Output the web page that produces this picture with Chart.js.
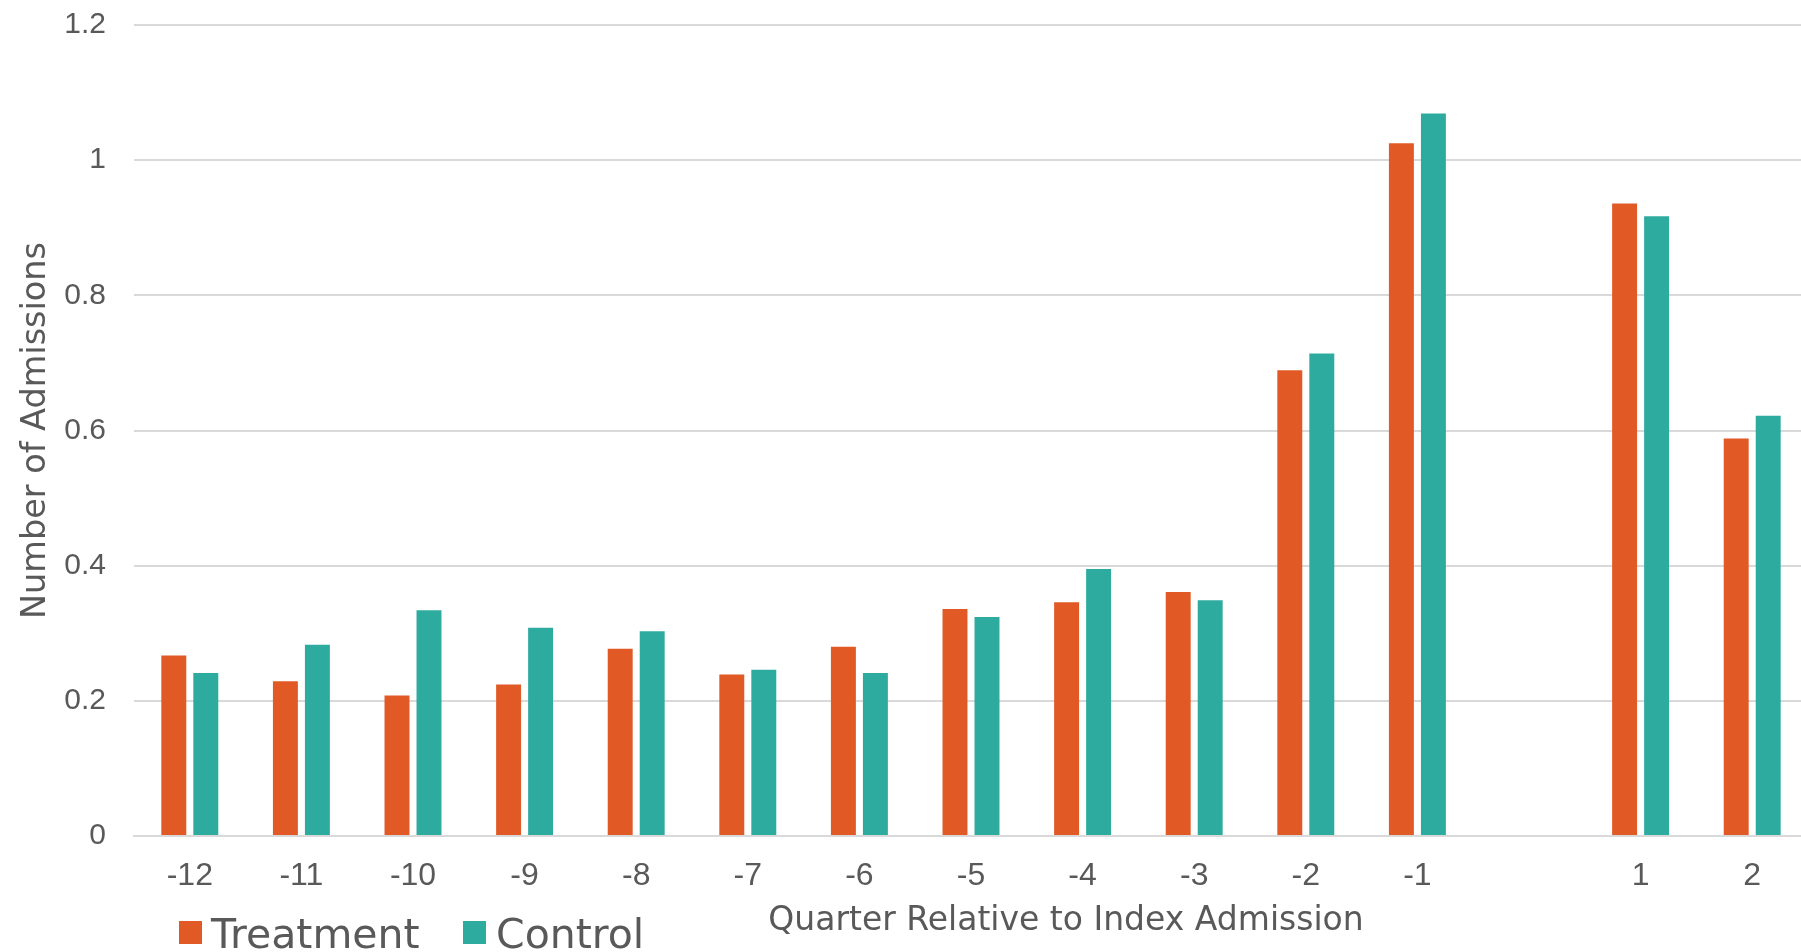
<!DOCTYPE html>
<html>
<head>
<meta charset="utf-8">
<title>Admissions by Quarter</title>
<script src="https://cdn.jsdelivr.net/npm/chart.js@4.4.0/dist/chart.umd.min.js"></script>
<style>
  html, body { margin: 0; padding: 0; background: #ffffff; overflow: hidden; }
  #wrap { position: relative; width: 1808px; height: 952px; }
</style>
</head>
<body>
<div id="wrap"><canvas id="chart"></canvas></div>
<script>
// Quarters relative to the index admission (quarter 0 is left empty)
const quarters = ['-12', '-11', '-10', '-9', '-8', '-7', '-6', '-5', '-4', '-3', '-2', '-1', '', '1', '2'];

// Mean number of admissions per quarter
const treatment = [0.267, 0.229, 0.208, 0.224, 0.277, 0.239, 0.280, 0.336, 0.346, 0.361, 0.689, 1.025, null, 0.936, 0.588];
const control   = [0.241, 0.283, 0.334, 0.308, 0.303, 0.246, 0.241, 0.324, 0.395, 0.349, 0.714, 1.069, null, 0.917, 0.622];

// Value axis ticks
const yTickValues = [0, 0.2, 0.4, 0.6, 0.8, 1, 1.2];

const seriesNames = ['Treatment', 'Control'];
const seriesColors = ['#E15A26', '#2EAB9F'];

const xTitle = 'Quarter Relative to Index Admission';
const yTitle = 'Number of Admissions';

const textColor = '#595959';
const gridColor = '#d9d9d9';
const fontStack = "'Liberation Sans', Arial, sans-serif";
const titleFamily = "'DejaVu Sans', sans-serif";

// Axis title under the category labels and the legend at the lower left
const bottomTexts = {
  id: 'bottomTexts',
  afterDraw(chart) {
    const { ctx, height } = chart;
    ctx.save();
    ctx.fillStyle = textColor;
    ctx.textBaseline = 'alphabetic';

    ctx.font = '33px ' + titleFamily;
    ctx.textAlign = 'center';
    ctx.fillText(xTitle, 1066, height - 22);

    ctx.font = '41px ' + titleFamily;
    ctx.textAlign = 'left';
    const items = [
      { box: 179, text: 211 },
      { box: 463, text: 496 }
    ];
    items.forEach((it, i) => {
      ctx.fillStyle = seriesColors[i];
      ctx.fillRect(it.box, height - 31, 23, 23);
      ctx.fillStyle = textColor;
      ctx.fillText(seriesNames[i], it.text, height - 4);
    });
    ctx.restore();
  }
};

new Chart(document.getElementById('chart'), {
  type: 'bar',
  data: {
    labels: quarters,
    datasets: [
      {
        label: seriesNames[0],
        data: treatment,
        backgroundColor: seriesColors[0],
        categoryPercentage: 0.5735,
        barPercentage: 0.78
      },
      {
        label: seriesNames[1],
        data: control,
        backgroundColor: seriesColors[1],
        categoryPercentage: 0.5735,
        barPercentage: 0.78
      }
    ]
  },
  options: {
    responsive: true,
    maintainAspectRatio: false,
    animation: false,
    layout: { padding: { top: 25, right: 0, bottom: 35.6, left: 0 } },
    plugins: {
      legend: { display: false },
      tooltip: { enabled: false }
    },
    scales: {
      x: {
        grid: { display: false, drawTicks: false },
        border: { display: true, color: gridColor, width: 2 },
        ticks: {
          color: textColor,
          font: { family: fontStack, size: 32 },
          padding: 21,
          maxRotation: 0,
          autoSkip: false
        }
      },
      y: {
        min: 0,
        max: 1.2,
        afterBuildTicks: (scale) => {
          scale.ticks = yTickValues.map(v => ({ value: v }));
        },
        afterFit: (scale) => { scale.width = 134; },
        grid: {
          color: gridColor,
          lineWidth: 2,
          drawTicks: true,
          tickLength: 28,
          tickColor: 'rgba(0,0,0,0)'
        },
        border: { display: false },
        ticks: {
          color: textColor,
          font: { family: fontStack, size: 30 },
          padding: 0,
          callback: (value) => String(value)
        },
        title: {
          display: true,
          text: yTitle,
          color: textColor,
          font: { family: titleFamily, size: 33.5 },
          padding: { top: 16, bottom: 0 }
        }
      }
    }
  },
  plugins: [bottomTexts]
});
</script>
</body>
</html>
